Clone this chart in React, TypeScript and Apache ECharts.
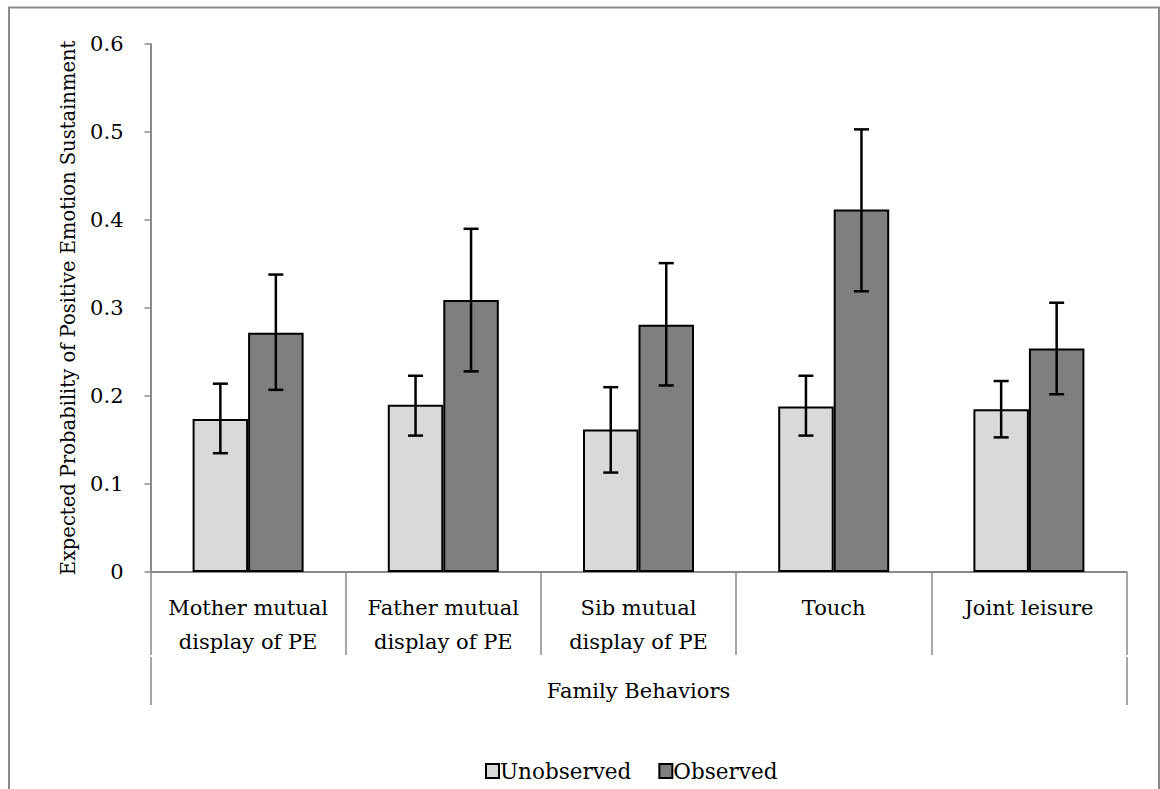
import React, { useEffect, useRef } from "react";
import * as echarts from "echarts";

const categories = [
  "Mother mutual\ndisplay of PE",
  "Father mutual\ndisplay of PE",
  "Sib mutual\ndisplay of PE",
  "Touch",
  "Joint leisure",
];
const groupLabel = ["Family Behaviors"];
const seriesNames = ["Unobserved", "Observed"];

const unobserved = [0.174, 0.19, 0.162, 0.188, 0.185];
const unobservedLow = [0.135, 0.155, 0.113, 0.155, 0.153];
const unobservedHigh = [0.214, 0.223, 0.21, 0.223, 0.217];

const observed = [0.272, 0.309, 0.281, 0.412, 0.254];
const observedLow = [0.207, 0.228, 0.212, 0.319, 0.202];
const observedHigh = [0.338, 0.39, 0.351, 0.503, 0.306];

const yTicks = [0, 0.1, 0.2, 0.3, 0.4, 0.5, 0.6];

const FONT = "'DejaVu Serif', 'Liberation Serif', serif";
const BAR_W = 55.5;
const AXIS_GRAY = "#8a8a8a";

function errorSeries(name: string, low: number[], high: number[], offset: number) {
  return {
    type: "custom",
    name: name + " error",
    z: 10,
    data: low.map((l, i) => [i, l, high[i]]),
    encode: { x: 0, y: [1, 2] },
    renderItem: (params: any, api: any) => {
      const idx = api.value(0);
      const top = api.coord([idx, api.value(2)]);
      const bot = api.coord([idx, api.value(1)]);
      const x = top[0] + offset;
      const cap = 7.5;
      const style = { stroke: "#000", lineWidth: 2.5 };
      return {
        type: "group",
        children: [
          { type: "line", shape: { x1: x, y1: top[1], x2: x, y2: bot[1] }, style },
          { type: "line", shape: { x1: x - cap, y1: top[1], x2: x + cap, y2: top[1] }, style },
          { type: "line", shape: { x1: x - cap, y1: bot[1], x2: x + cap, y2: bot[1] }, style },
        ],
      };
    },
  };
}

export default function App() {
  const ref = useRef<HTMLDivElement>(null);
  useEffect(() => {
    if (!ref.current) return;
    const chart = echarts.init(ref.current, undefined, { renderer: "svg" });
    chart.setOption({
      animation: false,
      backgroundColor: "#fff",
      textStyle: { fontFamily: FONT },
      grid: { left: 150.5, right: 33.5, top: 44, bottom: 217, containLabel: false },
      legend: {
        data: seriesNames,
        left: 480,
        top: 755,
        itemWidth: 13,
        itemHeight: 14,
        itemGap: 27,
        icon: "rect",
        textStyle: { fontFamily: FONT, fontSize: 21.5, color: "#000", padding: [0, 0, 0, -4] },
      },
      graphic: [
        {
          type: "rect",
          shape: { x: 9, y: 7.5, width: 1150, height: 800 },
          style: { fill: "none", stroke: AXIS_GRAY, lineWidth: 2 },
          silent: true,
        },
      ],
      xAxis: [
        {
          type: "category",
          data: categories,
          axisLine: { show: true, lineStyle: { color: AXIS_GRAY, width: 2 } },
          axisTick: {
            show: true,
            interval: 0,
            alignWithLabel: false,
            length: 83,
            lineStyle: { color: AXIS_GRAY, width: 1.5 },
          },
          axisLabel: {
            interval: 0,
            margin: 19,
            fontFamily: FONT,
            fontSize: 21,
            lineHeight: 34,
            color: "#000",
            verticalAlign: "top",
          },
        },
        {
          type: "category",
          data: groupLabel,
          position: "bottom",
          offset: 85,
          axisLine: { show: false },
          axisTick: {
            show: true,
            interval: 0,
            alignWithLabel: false,
            length: 48,
            lineStyle: { color: AXIS_GRAY, width: 1.5 },
          },
          axisLabel: {
            interval: 0,
            margin: 23,
            fontFamily: FONT,
            fontSize: 21,
            color: "#000",
            verticalAlign: "top",
          },
        },
      ],
      yAxis: {
        type: "value",
        min: 0,
        max: 0.6,
        interval: 0.1,
        name: "Expected Probability of Positive Emotion Sustainment",
        nameLocation: "middle",
        nameGap: 72,
        nameRotate: 90,
        nameTextStyle: { fontFamily: FONT, fontSize: 19.5, color: "#000" },
        axisLine: { show: true, lineStyle: { color: AXIS_GRAY, width: 2 } },
        axisTick: { show: true, length: 6, lineStyle: { color: AXIS_GRAY, width: 1.5 } },
        splitLine: { show: false },
        axisLabel: {
          margin: 27,
          fontFamily: FONT,
          fontSize: 21,
          color: "#000",
          formatter: (v: number) => {
            const t = yTicks.find((y) => Math.abs(y - v) < 1e-9);
            const val = t === undefined ? v : t;
            return val === 0 ? "0" : val.toFixed(1);
          },
        },
      },
      series: [
        {
          type: "bar",
          name: seriesNames[0],
          data: unobserved,
          barWidth: BAR_W,
          barGap: "0%",
          itemStyle: { color: "#d9d9d9", borderColor: "#000", borderWidth: 2 },
        },
        {
          type: "bar",
          name: seriesNames[1],
          data: observed,
          barWidth: BAR_W,
          barGap: "0%",
          itemStyle: { color: "#7f7f7f", borderColor: "#000", borderWidth: 2 },
        },
        errorSeries(seriesNames[0], unobservedLow, unobservedHigh, -BAR_W / 2),
        errorSeries(seriesNames[1], observedLow, observedHigh, BAR_W / 2),
      ],
    });
    return () => chart.dispose();
  }, []);
  return (
    <div
      ref={ref}
      style={{ position: "absolute", left: 0, top: 0, width: 1160, height: 789 }}
    />
  );
}
